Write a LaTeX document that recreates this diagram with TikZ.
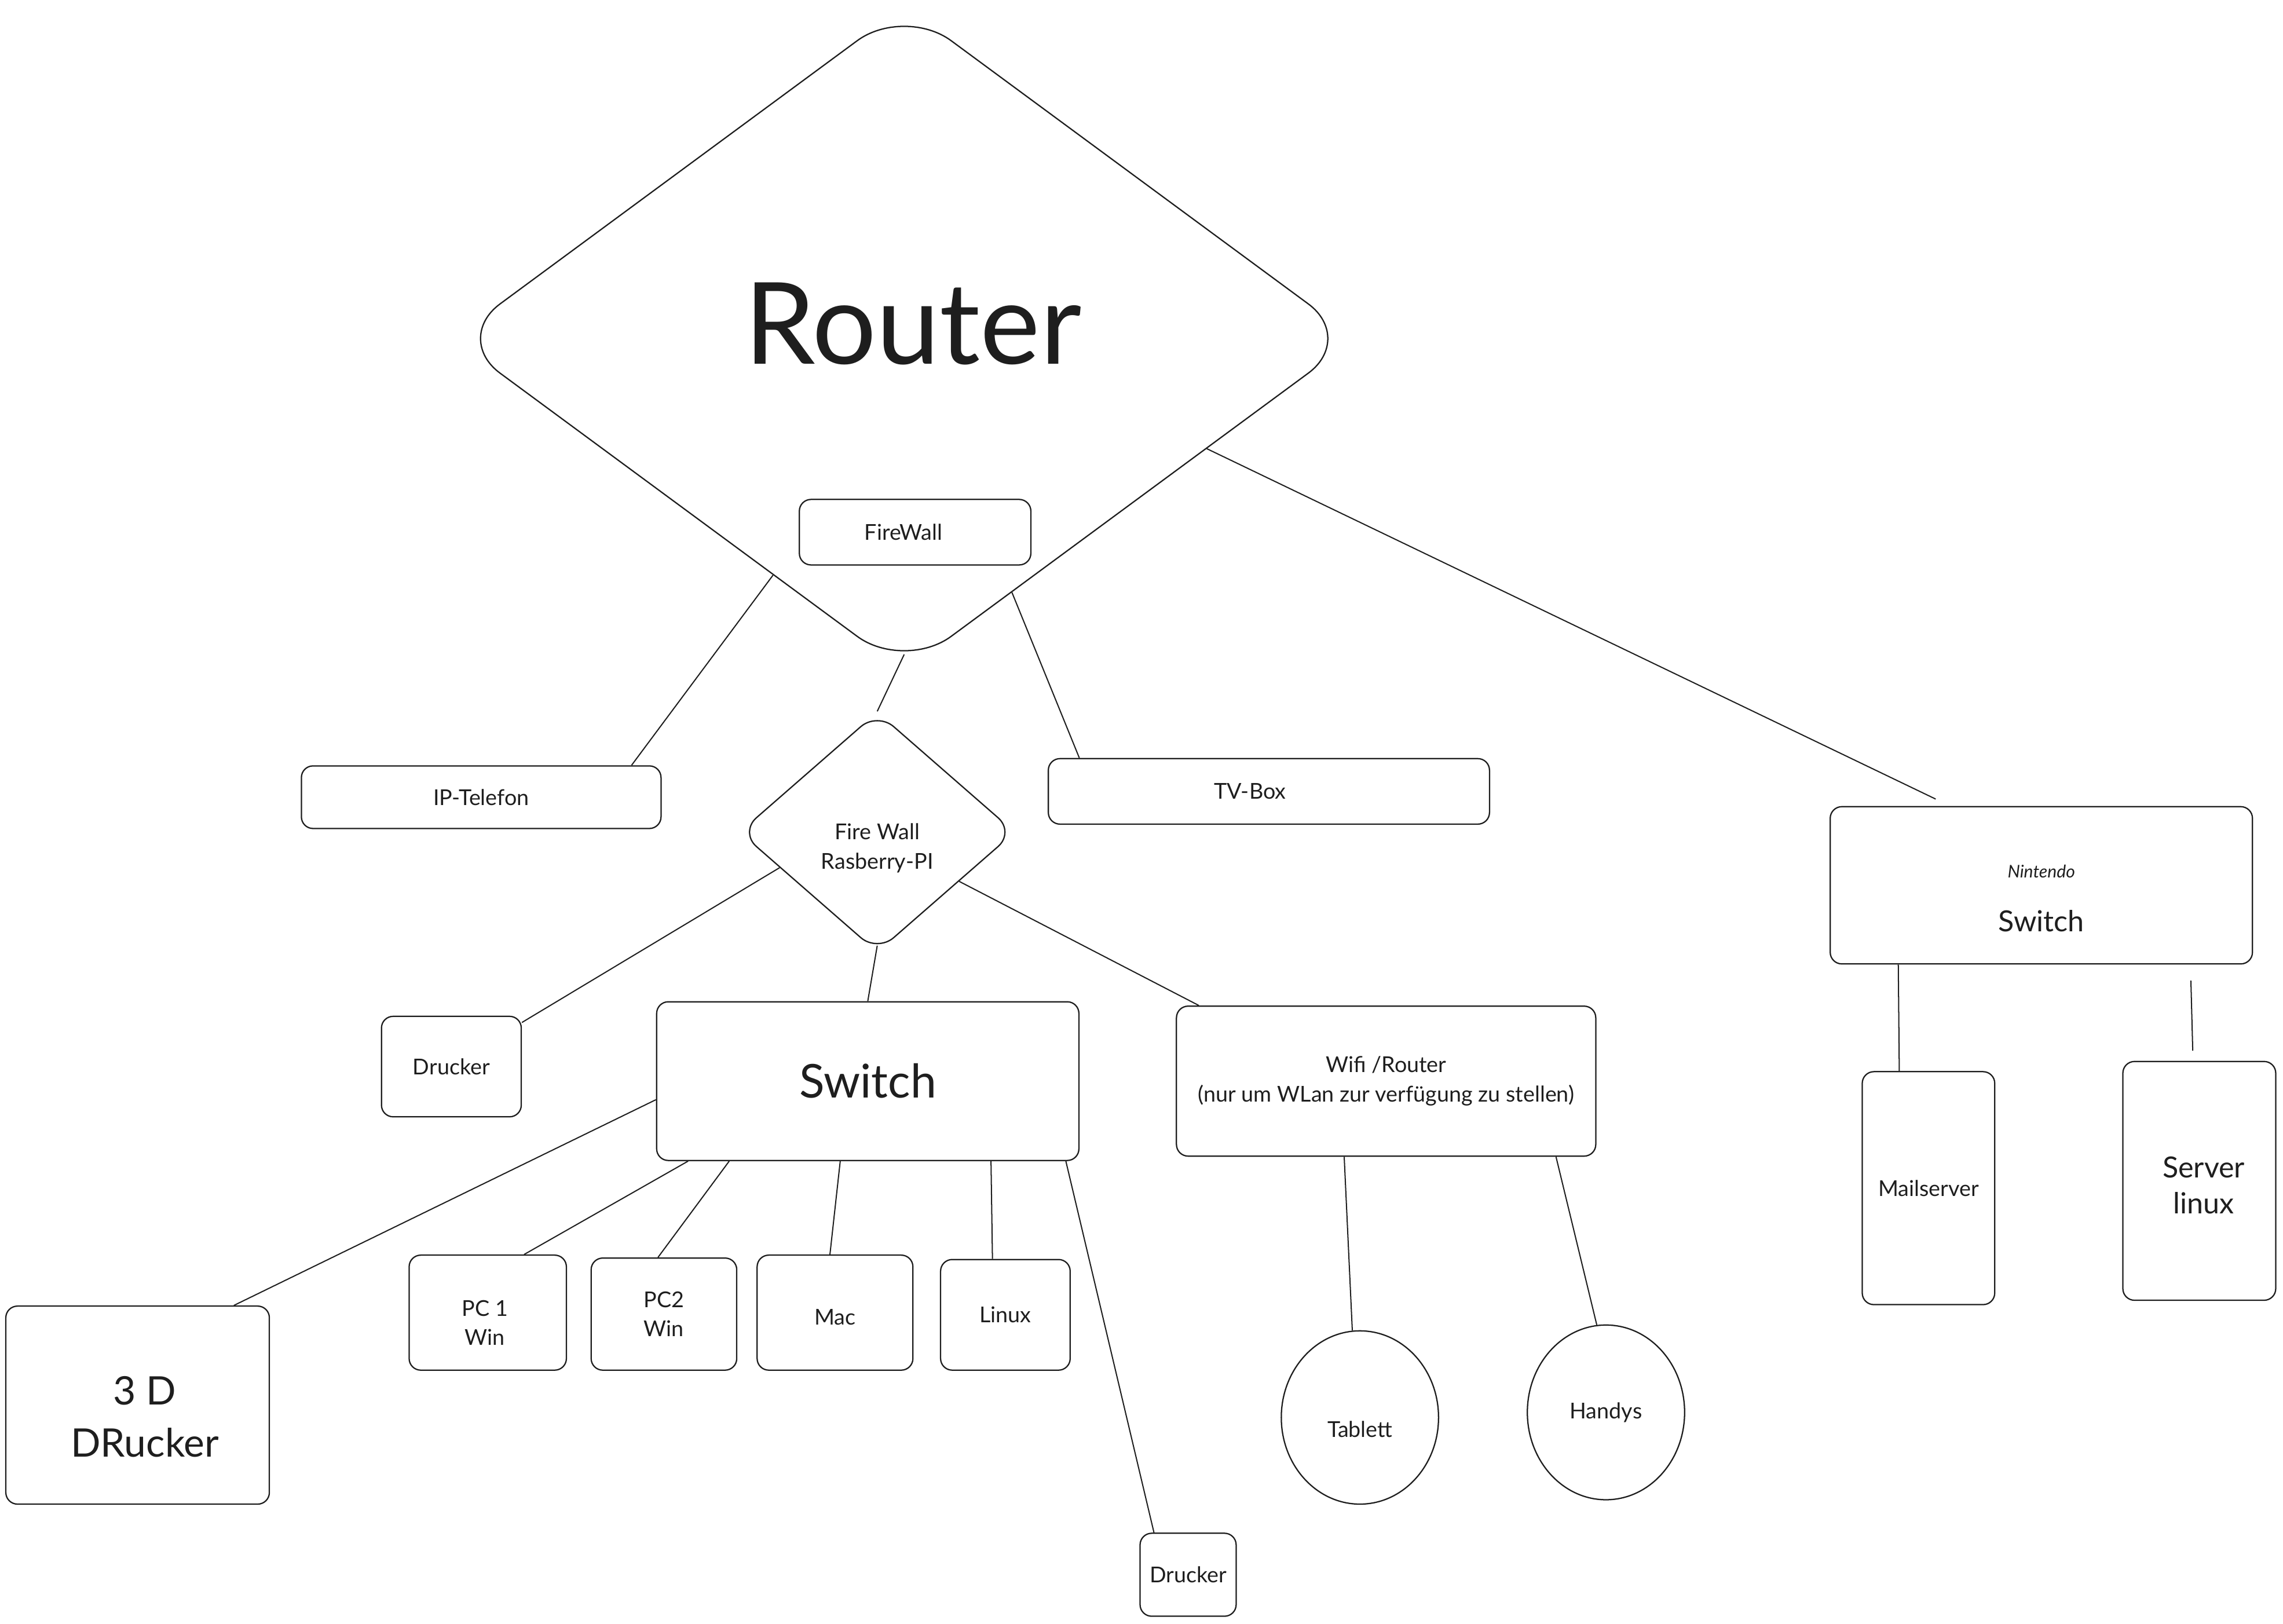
\documentclass[tikz,border=0pt]{standalone}
\usepackage{fontspec}
\setmainfont{Lato}
\usetikzlibrary{shapes.geometric}
\definecolor{ink}{HTML}{1E1E1E}

\tikzset{
  box/.style={draw=ink, text=ink, rounded corners=8pt, line width=0.9pt, inner sep=0pt, align=center, font=\fontsize{15}{20}\selectfont},
  rhomb/.style={draw=ink, text=ink, diamond, line width=0.9pt, inner sep=0pt, align=center},
  bubble/.style={draw=ink, text=ink, ellipse, line width=0.9pt, inner sep=0pt, font=\fontsize{15}{20}\selectfont},
  tag/.style={text=ink, align=center, inner sep=0pt, font=\fontsize{15}{20}\selectfont},
  link/.style={draw=ink, line width=0.8pt},
}

\begin{document}
\begin{tikzpicture}[x=1pt, y=-1pt]
    \useasboundingbox (0,0) rectangle (1568,1115);

    % Router and firewalls
    \node[rhomb, rounded corners=40pt, minimum width=620pt, minimum height=457pt,
          label={[tag, xshift=6pt, yshift=10pt, font=\fontsize{78}{90}\selectfont]center:Router}] (router) at (621,232.5) {};
    \node[box, minimum width=159pt, minimum height=45pt, label={[tag, xshift=-8pt]center:FireWall}] (fw) at (628.5,365.5) {};
    \node[rhomb, rounded corners=15pt, minimum width=189pt, minimum height=165pt,
          label={[tag, yshift=-11pt]center:Fire Wall\\Rasberry-PI}] (pi) at (602.5,571.5) {};

    % Devices at the router
    \node[box, minimum width=247pt, minimum height=43pt] (ip) at (330.5,547.5) {IP-Telefon};
    \node[box, minimum width=303pt, minimum height=45pt, label={[tag, xshift=-13pt]center:TV-Box}] (tv) at (871.5,543.5) {};
    \node[box, minimum width=290pt, minimum height=108pt,
          label={[tag, yshift=-9pt]center:{\fontsize{12}{14}\selectfont\itshape Nintendo}\\[17pt]{\fontsize{20}{24}\selectfont Switch}}] (nsw) at (1402,608) {};
    \node[box, minimum width=91pt, minimum height=160pt] (mail) at (1324.5,816) {Mailserver};
    \node[box, minimum width=105pt, minimum height=164pt,
          label={[tag, xshift=3pt, yshift=-3pt, font=\fontsize{20}{25}\selectfont]center:Server\\linux}] (srv) at (1510.5,811) {};

    % Behind the Rasberry-PI
    \node[box, minimum width=96pt, minimum height=69pt] (dr1) at (310,732.5) {Drucker};
    \node[box, minimum width=290pt, minimum height=109pt, font=\fontsize{32}{38}\selectfont] (sw) at (596,742.5) {Switch};
    \node[box, minimum width=288pt, minimum height=103pt] (wifi) at (952,742.5) {Wifi /Router\\(nur um WLan zur verfügung zu stellen)};

    % Switch ports
    \node[box, minimum width=181pt, minimum height=136pt,
          label={[tag, xshift=5pt, yshift=-8pt, font=\fontsize{27}{36}\selectfont]center:3 D\\DRucker}] (druck3d) at (94.5,965) {};
    \node[box, minimum width=108pt, minimum height=79pt, label={[tag, xshift=-2pt, yshift=-7pt]center:PC 1\\Win}] (pc1) at (335,901.5) {};
    \node[box, minimum width=100pt, minimum height=77pt] (pc2) at (456,902.5) {PC2\\Win};
    \node[box, minimum width=107pt, minimum height=79pt, label={[tag, yshift=-3pt]center:Mac}] (mac) at (573.5,901.5) {};
    \node[box, minimum width=89pt, minimum height=76pt] (lin) at (690.5,903) {Linux};
    \node[box, minimum width=66pt, minimum height=57pt] (dr2) at (816,1081.5) {Drucker};

    % WLan
    \node[bubble, minimum width=108pt, minimum height=119pt, label={[tag, yshift=-8pt]center:Tablett}] (tab) at (934,973.5) {};
    \node[bubble, minimum width=108pt, minimum height=120pt] (hand) at (1103,970) {Handys};

    % Cables
    \draw[link] (router.-119) -- (ip.12);
    \draw[link] ([yshift=12pt]router.south) -- (pi.north);
    \draw[link] (router.-67) -- (tv.170);
    \draw[link, shorten >=11pt] (router.-20) -- (nsw.139);
    \draw[link] (pi.200) -- (dr1.32);
    \draw[link] ([yshift=5pt]pi.south) -- (sw.north);
    \draw[link] (pi.-31) -- (wifi.158);
    \draw[link] (sw.185) -- (druck3d.46);
    \draw[link] (sw.-156) -- (pc1.58);
    \draw[link] (sw.-150) -- (pc2.96);
    \draw[link] (sw.-109) -- (mac.95);
    \draw[link] (sw.-33) -- (lin.103);
    \draw[link] (sw.-22) -- (dr2.129);
    \draw[link] (wifi.-119) -- (tab.95);
    \draw[link] (wifi.-24) -- (hand.96);
    \draw[link] (nsw.-151) -- (mail.104);
    \draw[link, shorten <=11pt, shorten >=7pt] (nsw.-28) -- (srv.93);
\end{tikzpicture}
\end{document}
